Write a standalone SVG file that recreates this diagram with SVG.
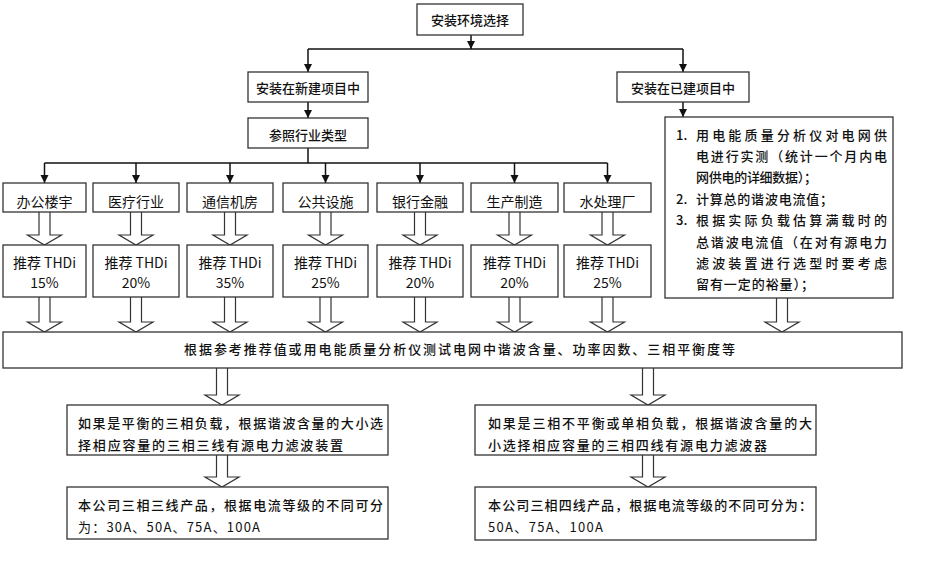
<svg xmlns="http://www.w3.org/2000/svg" width="940" height="565" viewBox="0 0 940 565">
<defs>
<marker id="ah" viewBox="0 0 10 10" refX="10" refY="5" markerWidth="8" markerHeight="9" markerUnits="userSpaceOnUse" orient="auto">
<path d="M0,0 L10,5 L0,10 Z" fill="#111"/>
</marker>
<style>
.box{fill:#fff;stroke:#333;stroke-width:1.3}
.ln{fill:none;stroke:#111;stroke-width:1.5}
.ha{fill:#fff;stroke:#333;stroke-width:1.2}
text{font-family:"Noto Sans CJK SC","Liberation Sans",sans-serif;fill:#111;font-size:13px}
.b{font-weight:500}
.c{text-anchor:middle}
.m{font-size:14px}
</style>
</defs>
<rect width="940" height="565" fill="#fff"/>

<g id="connectors">
<path class="ln" d="M471,35 V49" marker-end="url(#ah)"/>
<path class="ln" d="M308,49 H683"/>
<path class="ln" d="M308,49 V72" marker-end="url(#ah)"/>
<path class="ln" d="M683,49 V72" marker-end="url(#ah)"/>
<path class="ln" d="M308,102 V118" marker-end="url(#ah)"/>
<path class="ln" d="M683,102 V117" marker-end="url(#ah)"/>
<path class="ln" d="M308,148 V163 M44.5,163 H607.5"/>
<path class="ln" d="M44.5,163 V183" marker-end="url(#ah)"/>
<path class="ln" d="M136,163 V183" marker-end="url(#ah)"/>
<path class="ln" d="M230,163 V183" marker-end="url(#ah)"/>
<path class="ln" d="M325.5,163 V183" marker-end="url(#ah)"/>
<path class="ln" d="M420,163 V183" marker-end="url(#ah)"/>
<path class="ln" d="M514.5,163 V183" marker-end="url(#ah)"/>
<path class="ln" d="M607.5,163 V183" marker-end="url(#ah)"/>
<path class="ha" d="M39,212 V235 H27.5 L44.5,245 L61.5,235 H50 V212"/>
<path class="ha" d="M130.5,212 V235 H119 L136,245 L153,235 H141.5 V212"/>
<path class="ha" d="M224.5,212 V235 H213 L230,245 L247,235 H235.5 V212"/>
<path class="ha" d="M320,212 V235 H308.5 L325.5,245 L342.5,235 H331 V212"/>
<path class="ha" d="M414.5,212 V235 H403 L420,245 L437,235 H425.5 V212"/>
<path class="ha" d="M509,212 V235 H497.5 L514.5,245 L531.5,235 H520 V212"/>
<path class="ha" d="M602,212 V235 H590.5 L607.5,245 L624.5,235 H613 V212"/>
<path class="ha" d="M39,297 V322 H27.5 L44.5,332 L61.5,322 H50 V297"/>
<path class="ha" d="M130.5,297 V322 H119 L136,332 L153,322 H141.5 V297"/>
<path class="ha" d="M224.5,297 V322 H213 L230,332 L247,322 H235.5 V297"/>
<path class="ha" d="M320,297 V322 H308.5 L325.5,332 L342.5,322 H331 V297"/>
<path class="ha" d="M414.5,297 V322 H403 L420,332 L437,322 H425.5 V297"/>
<path class="ha" d="M509,297 V322 H497.5 L514.5,332 L531.5,322 H520 V297"/>
<path class="ha" d="M602,297 V322 H590.5 L607.5,332 L624.5,322 H613 V297"/>
<path class="ha" d="M776.5,298 V322 H765 L782,332 L799,322 H787.5 V298"/>
<path class="ha" d="M216.5,368 V395 H205 L222,405 L239,395 H227.5 V368"/>
<path class="ha" d="M642.5,368 V395 H631 L648,405 L665,395 H653.5 V368"/>
<path class="ha" d="M216.5,455 V477 H205 L222,487 L239,477 H227.5 V455"/>
<path class="ha" d="M642.5,455 V477 H631 L648,487 L665,477 H653.5 V455"/>
</g>

<g id="n-top"><rect class="box" x="417" y="4" width="106" height="31"/><text class="b c" x="470" y="24.5">安装环境选择</text></g>
<g id="n-new"><rect class="box" x="248" y="72" width="120" height="30"/><text class="b c" x="308" y="92.5">安装在新建项目中</text></g>
<g id="n-exist"><rect class="box" x="617" y="72" width="132" height="30"/><text class="b c" x="683" y="92.5">安装在已建项目中</text></g>
<g id="n-ref"><rect class="box" x="248" y="118" width="120" height="30"/><text class="b c" x="308" y="139.5">参照行业类型</text></g>

<g id="n-steps"><rect class="box" x="665" y="117" width="228" height="181"/>
<text class="b" x="676" y="139.5">1.</text><text class="b" x="696" y="139.5" textLength="191" lengthAdjust="spacing">用电能质量分析仪对电网供</text>
<text class="b" x="696" y="161" textLength="191" lengthAdjust="spacing">电进行实测（统计一个月内电</text>
<text class="b" x="696" y="182.4" textLength="121" lengthAdjust="spacing">网供电的详细数据）；</text>
<text class="b" x="676" y="203.8">2.</text><text class="b" x="696" y="203.8" textLength="137" lengthAdjust="spacing">计算总的谐波电流值；</text>
<text class="b" x="676" y="225.2">3.</text><text class="b" x="696" y="225.2" textLength="191" lengthAdjust="spacing">根据实际负载估算满载时的</text>
<text class="b" x="696" y="246.6" textLength="191" lengthAdjust="spacing">总谐波电流值（在对有源电力</text>
<text class="b" x="696" y="268" textLength="191" lengthAdjust="spacing">滤波装置进行选型时要考虑</text>
<text class="b" x="696" y="289.4" textLength="118" lengthAdjust="spacing">留有一定的裕量）；</text>
</g>

<g id="n-i1"><rect class="box" x="3" y="183" width="83" height="29"/><text class="m c" x="44.5" y="206.5">办公楼宇</text></g>
<g id="n-i2"><rect class="box" x="93" y="183" width="86" height="29"/><text class="m c" x="136" y="206.5">医疗行业</text></g>
<g id="n-i3"><rect class="box" x="187" y="183" width="86" height="29"/><text class="m c" x="230" y="206.5">通信机房</text></g>
<g id="n-i4"><rect class="box" x="283" y="183" width="85" height="29"/><text class="m c" x="325.5" y="206.5">公共设施</text></g>
<g id="n-i5"><rect class="box" x="377" y="183" width="86" height="29"/><text class="m c" x="420" y="206.5">银行金融</text></g>
<g id="n-i6"><rect class="box" x="471" y="183" width="87" height="29"/><text class="m c" x="514.5" y="206.5">生产制造</text></g>
<g id="n-i7"><rect class="box" x="564" y="183" width="87" height="29"/><text class="m c" x="607.5" y="206.5">水处理厂</text></g>

<g id="n-t1"><rect class="box" x="3" y="245" width="83" height="52"/><text class="m c" x="44.5" y="268">推荐 THDi</text><text class="m c" x="44.5" y="288">15%</text></g>
<g id="n-t2"><rect class="box" x="93" y="245" width="86" height="52"/><text class="m c" x="136" y="268">推荐 THDi</text><text class="m c" x="136" y="288">20%</text></g>
<g id="n-t3"><rect class="box" x="187" y="245" width="86" height="52"/><text class="m c" x="230" y="268">推荐 THDi</text><text class="m c" x="230" y="288">35%</text></g>
<g id="n-t4"><rect class="box" x="283" y="245" width="85" height="52"/><text class="m c" x="325.5" y="268">推荐 THDi</text><text class="m c" x="325.5" y="288">25%</text></g>
<g id="n-t5"><rect class="box" x="377" y="245" width="86" height="52"/><text class="m c" x="420" y="268">推荐 THDi</text><text class="m c" x="420" y="288">20%</text></g>
<g id="n-t6"><rect class="box" x="471" y="245" width="87" height="52"/><text class="m c" x="514.5" y="268">推荐 THDi</text><text class="m c" x="514.5" y="288">20%</text></g>
<g id="n-t7"><rect class="box" x="564" y="245" width="87" height="52"/><text class="m c" x="607.5" y="268">推荐 THDi</text><text class="m c" x="607.5" y="288">25%</text></g>

<g id="n-big"><rect class="box" x="3" y="332" width="899" height="36"/><text class="b" x="184" y="354" textLength="551" lengthAdjust="spacing">根据参考推荐值或用电能质量分析仪测试电网中谐波含量、功率因数、三相平衡度等</text></g>

<g id="n-l1"><rect class="box" x="67" y="405" width="321" height="50"/>
<text class="b" x="78" y="428" textLength="305" lengthAdjust="spacing">如果是平衡的三相负载，根据谐波含量的大小选</text>
<text class="b" x="78" y="450" textLength="265" lengthAdjust="spacing">择相应容量的三相三线有源电力滤波装置</text></g>
<g id="n-l2"><rect class="box" x="67" y="487" width="321" height="52"/>
<text class="b" x="78" y="510" textLength="305" lengthAdjust="spacing">本公司三相三线产品，根据电流等级的不同可分</text>
<text x="78" y="532" textLength="182" lengthAdjust="spacing">为：30A、50A、75A、100A</text></g>
<g id="n-r1"><rect class="box" x="475" y="405" width="341" height="50"/>
<text class="b" x="488" y="428" textLength="324" lengthAdjust="spacing">如果是三相不平衡或单相负载，根据谐波含量的大</text>
<text class="b" x="488" y="450" textLength="279" lengthAdjust="spacing">小选择相应容量的三相四线有源电力滤波器</text></g>
<g id="n-r2"><rect class="box" x="475" y="487" width="341" height="53"/>
<text class="b" x="488" y="510" textLength="324" lengthAdjust="spacing">本公司三相四线产品，根据电流等级的不同可分为：</text>
<text x="488" y="532" textLength="115" lengthAdjust="spacing">50A、75A、100A</text></g>
</svg>
